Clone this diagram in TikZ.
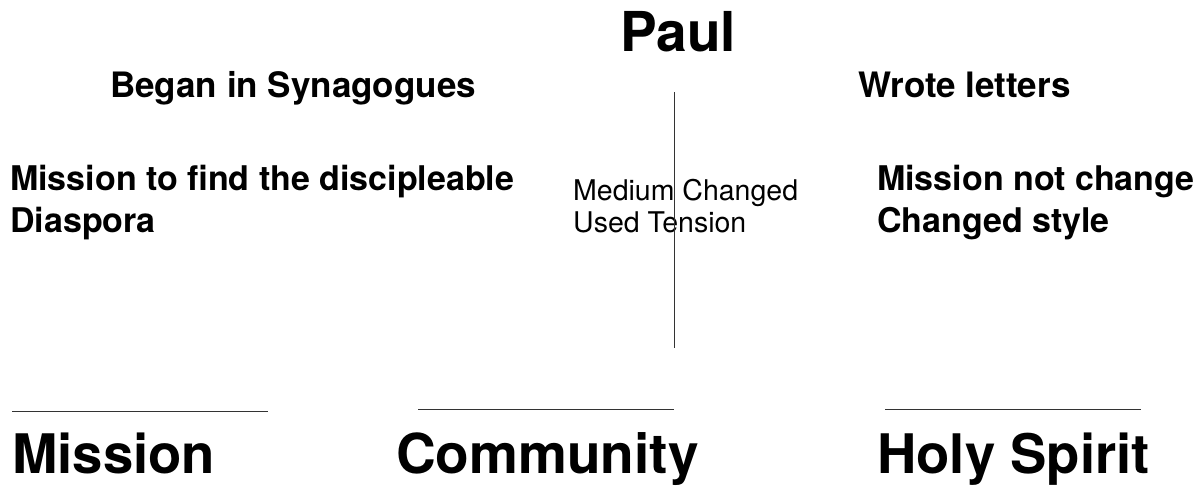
\documentclass[tikz,border=0pt]{standalone}
\usepackage{fontspec}
\setmainfont{TeX Gyre Heros}
\begin{document}
\begin{tikzpicture}[x=1pt,y=-1pt,
  txt/.style={inner sep=0pt,anchor=base west},
  rule/.style={draw=black!80,line width=1pt}]
\useasboundingbox (0,0) rectangle (1196,487);
\node[txt,anchor=base] (paul) at (678,52) {\fontsize{55}{60}\selectfont\bfseries Paul};
\node[txt] (began) at (110,97) {\fontsize{35}{40}\selectfont\bfseries Began in Synagogues};
\node[txt] (wrote) at (858,97) {\fontsize{35}{40}\selectfont\bfseries Wrote letters};
\node[txt] (m1) at (10,190) {\fontsize{34}{38}\selectfont\bfseries Mission to find the discipleable};
\node[txt] (m2) at (10,232) {\fontsize{34}{38}\selectfont\bfseries Diaspora};
\node[txt] (c1) at (573,200) {\fontsize{28.5}{32}\selectfont Medium Changed};
\node[txt] (c2) at (573,232) {\fontsize{28.5}{32}\selectfont Used Tension};
\node[txt] (r1) at (877,190) {\fontsize{34}{38}\selectfont\bfseries Mission not change};
\node[txt] (r2) at (877,232) {\fontsize{34}{38}\selectfont\bfseries Changed style};
\node[txt] (mission) at (12,473) {\fontsize{54.5}{58}\selectfont\bfseries Mission};
\node[txt] (community) at (396,473) {\fontsize{55}{58}\selectfont\bfseries Community};
\node[txt] (spirit) at (877,473) {\fontsize{54.5}{58}\selectfont\bfseries Holy Spirit};
\coordinate (vt) at (674,92);
\coordinate (vb) at (674,348);
\draw[rule] (vt) -- (vb);
\coordinate (l1a) at (12,411); \coordinate (l1b) at (268,411);
\coordinate (l2a) at (418,409); \coordinate (l2b) at (674,409);
\coordinate (l3a) at (885,409); \coordinate (l3b) at (1141,409);
\draw[rule] (l1a) -- (l1b);
\draw[rule] (l2a) -- (l2b);
\draw[rule] (l3a) -- (l3b);
\end{tikzpicture}
\end{document}
